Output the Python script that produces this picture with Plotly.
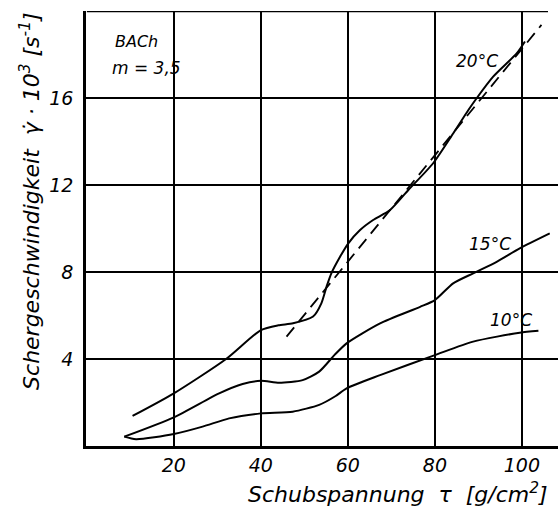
import plotly.graph_objects as go

# Data
t20_x = [10.5, 20, 32, 40, 44, 47.4, 52, 53.9, 55.1, 56.2, 58.2, 60.1, 62.8, 65.8, 69.7, 73.9, 79.6, 84.2, 87.7, 89.6, 93.4, 98.8, 100.7]
t20_y = [1.38, 2.42, 4.0, 5.33, 5.55, 5.64, 5.95, 6.56, 7.33, 7.94, 8.7, 9.32, 9.93, 10.39, 10.85, 11.77, 13.0, 14.37, 15.45, 15.99, 16.98, 18.05, 18.6]

fit_x = [45.9, 104.5]
fit_y = [5.03, 19.36]

t15_x = [8.6, 20, 30.4, 35.8, 40, 44.2, 49.6, 53.4, 57.0, 59.7, 67.4, 76.6, 80, 84.2, 88.8, 94.2, 99.5, 106.4]
t15_y = [0.43, 1.32, 2.42, 2.85, 3.0, 2.91, 3.03, 3.42, 4.2, 4.72, 5.64, 6.4, 6.71, 7.48, 7.94, 8.47, 9.09, 9.78]

t10_x = [8.6, 11.3, 20, 26.6, 32.7, 40, 47.3, 53.4, 57.2, 59.7, 67.4, 80, 88.8, 99.5, 103.8]
t10_y = [0.43, 0.31, 0.55, 0.89, 1.27, 1.5, 1.58, 1.89, 2.3, 2.65, 3.26, 4.18, 4.8, 5.21, 5.3]

x_ticks = [20, 40, 60, 80, 100]
y_ticks = [4, 8, 12, 16]

curve_labels = ["20°C", "15°C", "10°C"]
label_x = [89.7, 92.6, 97.5]
label_y = [17.7, 9.29, 5.79]

FONT = "DejaVu Sans"

fig = go.Figure()
line = dict(color="black", width=2, shape="spline", smoothing=0.65)
fig.add_trace(go.Scatter(x=t20_x, y=t20_y, mode="lines", line=line, showlegend=False))
fig.add_trace(go.Scatter(x=fit_x, y=fit_y, mode="lines",
                         line=dict(color="black", width=1.8, dash="12px,7px"), showlegend=False))
fig.add_trace(go.Scatter(x=t15_x, y=t15_y, mode="lines", line=line, showlegend=False))
fig.add_trace(go.Scatter(x=t10_x, y=t10_y, mode="lines", line=line, showlegend=False))

annotations = []
for t, lx, ly in zip(curve_labels, label_x, label_y):
    annotations.append(dict(x=lx, y=ly, xref="x", yref="y", text=t, showarrow=False,
                            xanchor="center", yanchor="middle",
                            font=dict(size=17, family=FONT, color="black", style="italic")))
annotations.append(dict(x=0.057, y=0.929, xref="paper", yref="paper", xanchor="left", yanchor="middle",
                        text="BACh", showarrow=False,
                        font=dict(size=16, family=FONT, color="black", style="italic")))
annotations.append(dict(x=0.051, y=0.869, xref="paper", yref="paper", xanchor="left", yanchor="middle",
                        text="m = 3,5", showarrow=False,
                        font=dict(size=17, family=FONT, color="black", style="italic")))
annotations.append(dict(x=-0.119, y=0.563, xref="paper", yref="paper", textangle=-90,
                        xanchor="center", yanchor="middle",
                        text="Schergeschwindigkeit  γ̇ · 10<sup>3</sup> [s<sup>-1</sup>]", showarrow=False,
                        font=dict(size=22, family=FONT, color="black", style="italic")))
annotations.append(dict(x=0.661, y=-0.108, xref="paper", yref="paper",
                        xanchor="center", yanchor="middle",
                        text="Schubspannung  τ  [g/cm<sup>2</sup>]", showarrow=False,
                        font=dict(size=22, family=FONT, color="black", style="italic")))

fig.add_shape(type="line", x0=0, x1=106, y0=20, y1=20, xref="x", yref="y",
              line=dict(color="black", width=2.5), layer="above")

fig.update_layout(
    width=558, height=506,
    margin=dict(l=86, r=0, t=11, b=60),
    paper_bgcolor="white", plot_bgcolor="white",
    font=dict(family=FONT, color="black", size=18, style="italic"),
    annotations=annotations,
    xaxis=dict(range=[-0.2, 108.3], tickvals=x_ticks, ticktext=[str(v) for v in x_ticks],
               showgrid=True, gridcolor="black", gridwidth=1.5, zeroline=False,
               showline=True, linecolor="black", linewidth=2.5, ticks="", ticklabelstandoff=0,
               tickfont=dict(size=19, family=FONT, style="italic")),
    yaxis=dict(range=[0, 20], tickvals=y_ticks, ticktext=[str(v) for v in y_ticks],
               showgrid=True, gridcolor="black", gridwidth=1.5, zeroline=False,
               showline=True, linecolor="black", linewidth=2.5, ticks="", ticklabelstandoff=6,
               tickfont=dict(size=19, family=FONT, style="italic")),
)

fig.write_html("out.html")
